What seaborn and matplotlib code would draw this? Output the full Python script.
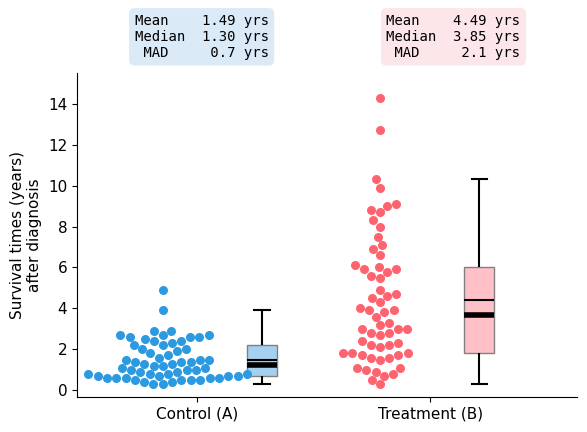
import numpy as np
import pandas as pd
import matplotlib
matplotlib.use("Agg")
import matplotlib.pyplot as plt
import seaborn as sns

groups = ["Control (A)", "Treatment (B)"]
control = [4.9,3.9,2.9,2.9,2.7,2.7,2.6,2.6,2.6,2.7,2.4,2.4,2.2,2.3,2.2,2.5,1.9,2.0,1.8,2.0,1.7,1.6,1.5,1.5,1.4,1.4,1.3,1.3,1.4,1.5,1.2,1.1,1.0,1.1,1.0,1.0,0.9,0.9,1.2,0.8,0.8,0.7,0.7,0.6,0.6,0.6,0.6,0.7,0.8,0.5,0.5,0.5,0.5,0.4,0.4,0.3,0.3,0.6,0.7,0.8]
treatment = [14.3,12.7,10.3,9.9,9.1,9.0,8.8,8.7,8.3,8.0,7.5,7.1,6.9,6.6,6.1,6.0,5.9,5.9,5.8,5.6,5.5,4.9,4.7,4.6,4.5,4.3,4.0,3.9,3.9,3.8,3.6,3.3,3.2,3.0,3.0,3.0,2.8,2.7,2.8,2.4,2.3,2.2,2.1,2.2,1.8,1.8,1.7,1.6,1.6,1.5,1.7,1.8,1.1,1.0,0.9,1.1,0.8,0.7,0.5,0.3]
stats_text = ["Mean    1.49 yrs\nMedian  1.30 yrs\n MAD     0.7 yrs",
              "Mean    4.49 yrs\nMedian  3.85 yrs\n MAD     2.1 yrs"]
point_colors = ["#2b9ae0", "#fe6370"]
box_colors = ["#a6d0f0", "#ffc0c8"]
label_bg = ["#dbeaf7", "#fde6ea"]
swarm_pos = [-0.146, 0.785]
box_pos = [0.279, 1.21]

fig = plt.figure(figsize=(5.87, 4.32), dpi=100)
ax = fig.add_axes([0.131, 0.081, 0.852, 0.75])
for i, vals in enumerate([control, treatment]):
    df = pd.DataFrame({"x": [swarm_pos[i]] * len(vals), "y": vals})
    sns.swarmplot(data=df, x="x", y="y", native_scale=True, color=point_colors[i],
                  size=6.5, ax=ax)
    dfb = pd.DataFrame({"x": [box_pos[i]] * len(vals), "y": vals})
    sns.boxplot(data=dfb, x="x", y="y", native_scale=True, width=0.13, showfliers=False,
                showmeans=True, meanline=True,
                boxprops=dict(facecolor=box_colors[i], edgecolor="gray"),
                medianprops=dict(color="black", linewidth=4),
                meanprops=dict(color="black", linewidth=1.5, linestyle="-"),
                whiskerprops=dict(color="black", linewidth=1.5),
                capprops=dict(color="black", linewidth=1.5), ax=ax)
    ax.text(i + (0.02 if i == 0 else 0.1), 1.04, stats_text[i], transform=ax.get_xaxis_transform(),
            ha="center", va="bottom", family="monospace", fontsize=10,
            bbox=dict(boxstyle="round,pad=0.4", facecolor=label_bg[i], edgecolor="none"))
ax.set_xlim(-0.515, 1.63)
ax.set_ylim(-0.33, 15.5)
ax.set_xticks([0, 1])
ax.set_xticklabels(groups, fontsize=11)
ax.set_yticks(np.arange(0, 15, 2))
ax.tick_params(labelsize=11)
ax.set_xlabel("")
ax.set_ylabel("Survival times (years)\nafter diagnosis", fontsize=11)
sns.despine(ax=ax)
fig.savefig("out.png", dpi=100)
